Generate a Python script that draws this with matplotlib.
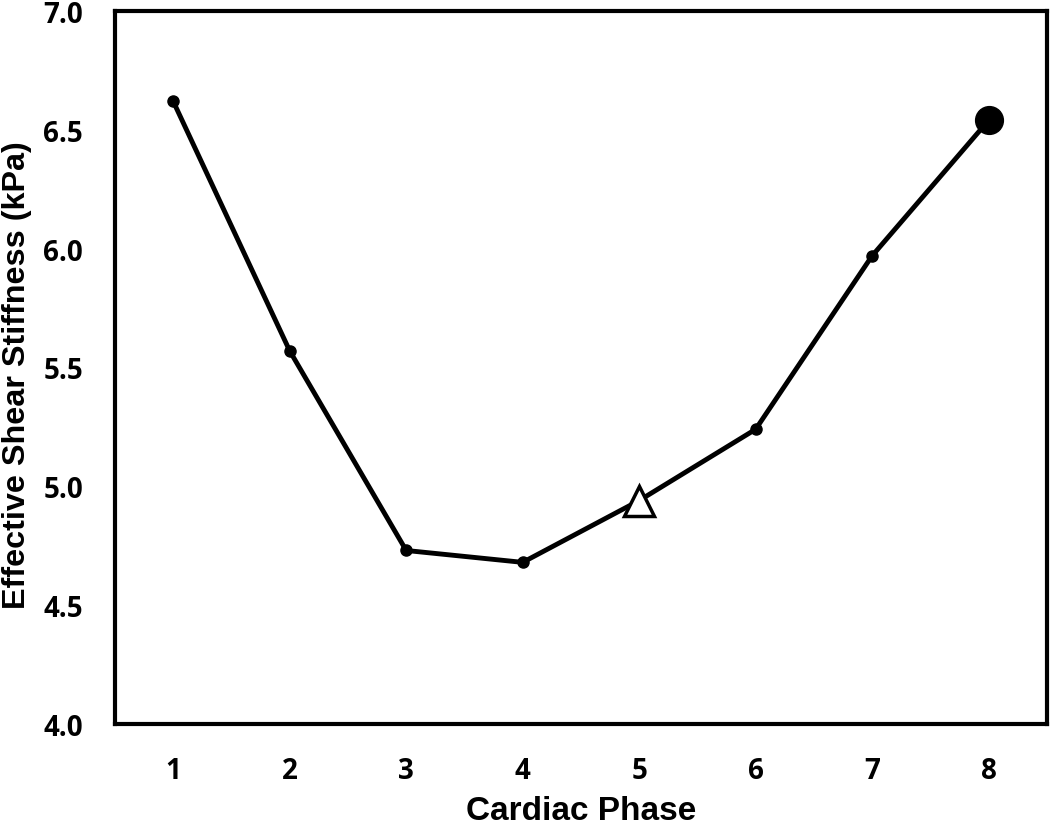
import numpy as np
import matplotlib.pyplot as plt

plt.rcParams['font.family'] = ['Open Sans', 'DejaVu Sans']

phase = [1, 2, 3, 4, 5, 6, 7, 8]
stiffness = [6.62, 5.57, 4.73, 4.68, 4.94, 5.24, 5.97, 6.54]
yticks = [4.0, 4.5, 5.0, 5.5, 6.0, 6.5, 7.0]

fig = plt.figure(figsize=(10.5, 8.29), dpi=100)
ax = fig.add_axes([0.1095, 0.1255, 0.8875, 0.86])

ax.plot(phase, stiffness, color='black', lw=3.5, marker='o', ms=8, zorder=2)
# highlighted points
ax.plot(phase[4], stiffness[4], marker='^', ms=21, mfc='white', mec='black',
        mew=2.5, ls='none', zorder=3)
ax.plot(phase[7], stiffness[7], marker='o', ms=20, color='black', ls='none', zorder=3)

ax.set_xlim(0.5, 8.5)
ax.set_ylim(4.0, 7.0)
ax.set_xticks(phase)
ax.set_yticks(yticks)
ax.set_yticklabels([f'{v:.1f}' for v in yticks])
ax.tick_params(length=0, labelsize=20)
ax.tick_params(axis='x', pad=23)
ax.tick_params(axis='y', pad=23)
for lab in ax.get_xticklabels() + ax.get_yticklabels():
    lab.set_fontweight('bold')
for s in ax.spines.values():
    s.set_linewidth(3)

ax.set_xlabel('Cardiac Phase', fontsize=24, fontweight='bold', family='Liberation Sans')
ax.set_ylabel('Effective Shear Stiffness (kPa)', fontsize=23.3, fontweight='bold',
              family='Liberation Sans')
ax.xaxis.set_label_coords(0.5, -0.1)
ax.yaxis.set_label_coords(-0.089, 0.491)

fig.savefig('out.png', dpi=100)
